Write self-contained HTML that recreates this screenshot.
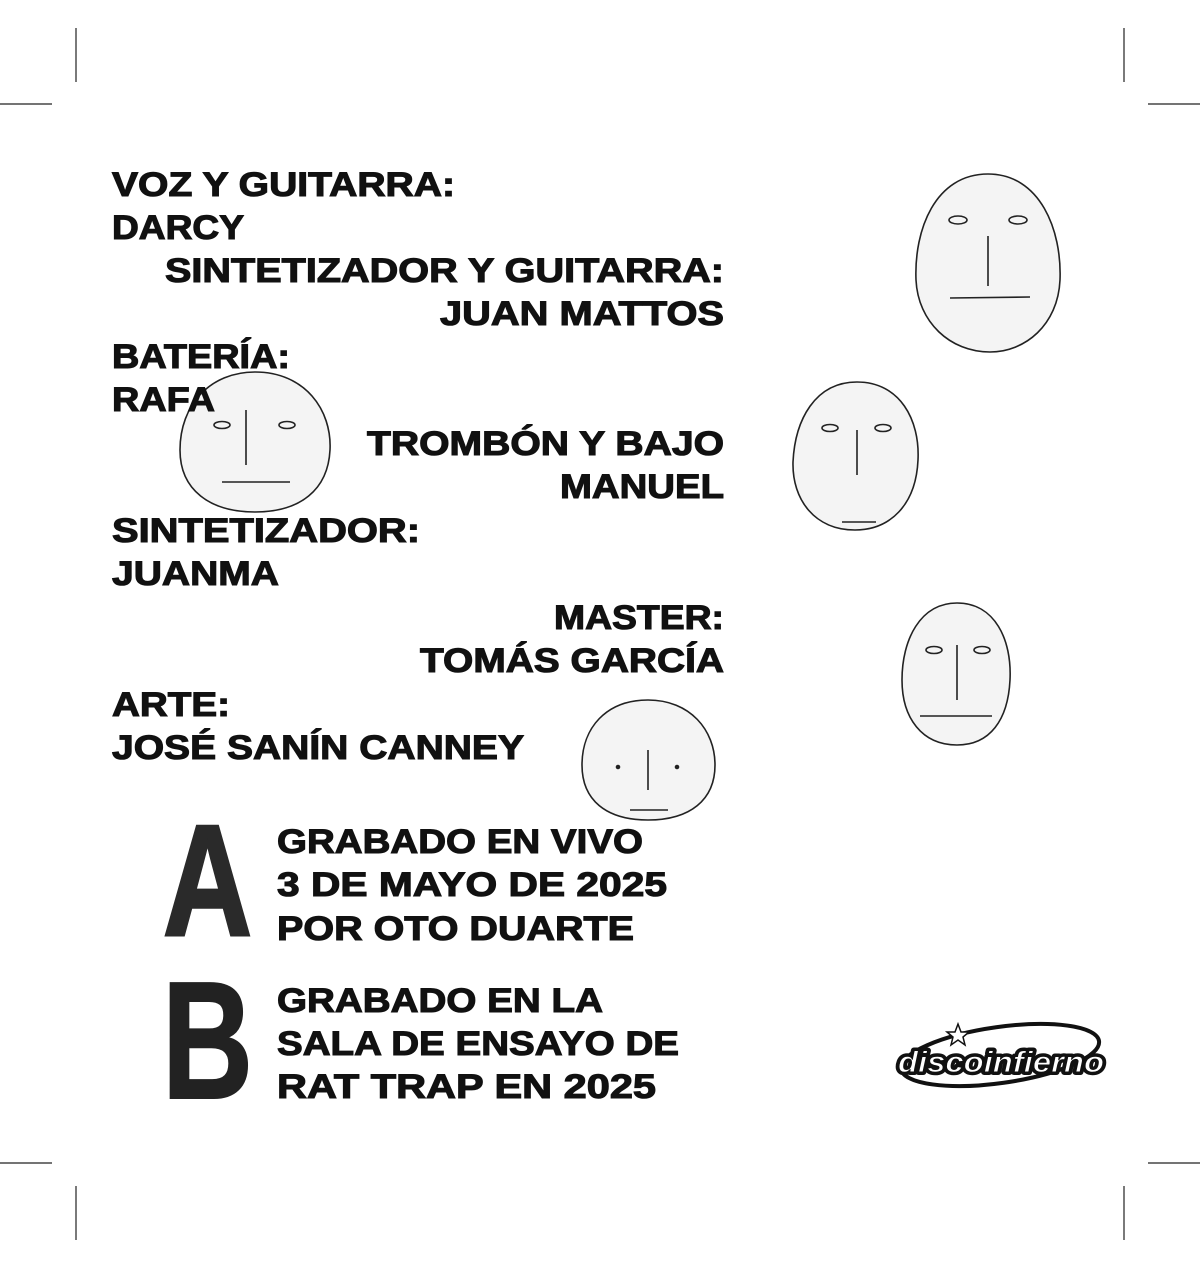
<!DOCTYPE html>
<html><head><meta charset="utf-8"><style>
html,body{margin:0;padding:0;background:#fff;}
svg{display:block}
text{font-family:"Liberation Sans",Arial,sans-serif;font-weight:bold;fill:#111;}
</style></head><body>
<svg width="1200" height="1265" viewBox="0 0 1200 1265" xmlns="http://www.w3.org/2000/svg">
<g stroke="#222" stroke-width="1.2">
<line x1="76" y1="28" x2="76" y2="82"/><line x1="0" y1="104" x2="52" y2="104"/>
<line x1="1124" y1="28" x2="1124" y2="82"/><line x1="1148" y1="104" x2="1200" y2="104"/>
<line x1="0" y1="1163" x2="52" y2="1163"/><line x1="76" y1="1186" x2="76" y2="1240"/>
<line x1="1148" y1="1163" x2="1200" y2="1163"/><line x1="1124" y1="1186" x2="1124" y2="1240"/>
</g>
<g fill="#f4f4f4" stroke="#222" stroke-width="1.6">
<path d="M988 174 C1040 174 1062 230 1060 280 C1058 325 1025 352 990 352 C950 352 918 322 916 280 C914 230 935 174 988 174Z"/>
<ellipse cx="958" cy="220" rx="9" ry="4"/><ellipse cx="1018" cy="220" rx="9" ry="4"/>
<line x1="988" y1="236" x2="988" y2="286"/><line x1="950" y1="298" x2="1030" y2="297"/>
<path d="M255 372 C305 372 332 410 330 450 C328 490 300 512 255 512 C210 512 180 490 180 450 C180 405 210 372 255 372Z"/>
<ellipse cx="222" cy="425" rx="8" ry="3.5"/><ellipse cx="287" cy="425" rx="8" ry="3.5"/>
<line x1="246" y1="410" x2="246" y2="465"/><line x1="222" y1="482" x2="290" y2="482"/>
<path d="M857 382 C900 382 920 420 918 460 C916 505 890 530 855 530 C815 530 792 500 793 462 C795 420 815 382 857 382Z"/>
<ellipse cx="830" cy="428" rx="8" ry="3.5"/><ellipse cx="883" cy="428" rx="8" ry="3.5"/>
<line x1="857" y1="430" x2="857" y2="475"/><line x1="842" y1="522" x2="876" y2="522"/>
<path d="M957 603 C995 603 1012 640 1010 680 C1008 720 990 745 957 745 C922 745 902 718 902 680 C902 640 920 603 957 603Z"/>
<ellipse cx="934" cy="650" rx="8" ry="3.5"/><ellipse cx="982" cy="650" rx="8" ry="3.5"/>
<line x1="957" y1="645" x2="957" y2="700"/><line x1="920" y1="716" x2="992" y2="716"/>
<path d="M648 700 C690 700 715 730 715 765 C715 800 690 820 648 820 C606 820 582 800 582 765 C582 728 606 700 648 700Z"/>
<circle cx="618" cy="767" r="1.5" fill="#222"/><circle cx="677" cy="767" r="1.5" fill="#222"/>
<line x1="648" y1="750" x2="648" y2="790"/><line x1="630" y1="810" x2="668" y2="810"/>
</g>
<g font-size="34" style="stroke:#111;stroke-width:1.1">
<text x="112" y="196" textLength="343" lengthAdjust="spacingAndGlyphs">VOZ Y GUITARRA:</text>
<text x="112" y="239" textLength="132" lengthAdjust="spacingAndGlyphs">DARCY</text>
<text x="165" y="282" textLength="559" lengthAdjust="spacingAndGlyphs">SINTETIZADOR Y GUITARRA:</text>
<text x="440" y="325" textLength="284" lengthAdjust="spacingAndGlyphs">JUAN MATTOS</text>
<text x="112" y="368" textLength="178" lengthAdjust="spacingAndGlyphs">BATERÍA:</text>
<text x="112" y="411" textLength="103" lengthAdjust="spacingAndGlyphs">RAFA</text>
<text x="367" y="455" textLength="357" lengthAdjust="spacingAndGlyphs">TROMBÓN Y BAJO</text>
<text x="560" y="498" textLength="164" lengthAdjust="spacingAndGlyphs">MANUEL</text>
<text x="112" y="542" textLength="308" lengthAdjust="spacingAndGlyphs">SINTETIZADOR:</text>
<text x="112" y="585" textLength="167" lengthAdjust="spacingAndGlyphs">JUANMA</text>
<text x="554" y="629" textLength="170" lengthAdjust="spacingAndGlyphs">MASTER:</text>
<text x="420" y="672" textLength="304" lengthAdjust="spacingAndGlyphs">TOMÁS GARCÍA</text>
<text x="112" y="716" textLength="118" lengthAdjust="spacingAndGlyphs">ARTE:</text>
<text x="112" y="759" textLength="412" lengthAdjust="spacingAndGlyphs">JOSÉ SANÍN CANNEY</text>
<text x="277" y="853" textLength="366" lengthAdjust="spacingAndGlyphs">GRABADO EN VIVO</text>
<text x="277" y="896" textLength="390" lengthAdjust="spacingAndGlyphs">3 DE MAYO DE 2025</text>
<text x="277" y="940" textLength="357" lengthAdjust="spacingAndGlyphs">POR OTO DUARTE</text>
<text x="277" y="1012" textLength="326" lengthAdjust="spacingAndGlyphs">GRABADO EN LA</text>
<text x="277" y="1055" textLength="402" lengthAdjust="spacingAndGlyphs">SALA DE ENSAYO DE</text>
<text x="277" y="1098" textLength="379" lengthAdjust="spacingAndGlyphs">RAT TRAP EN 2025</text>
</g>
<text x="163" y="935" font-size="158" textLength="89" lengthAdjust="spacingAndGlyphs" style="fill:#2a2a2a;stroke:#2a2a2a;stroke-width:3">A</text>
<text x="162" y="1098" font-size="167" textLength="91" lengthAdjust="spacingAndGlyphs" style="fill:#222;stroke:#222;stroke-width:2">B</text>
<g transform="rotate(-8 1000 1055)">
<ellipse cx="1000" cy="1055" rx="100" ry="28" fill="none" stroke="#111" stroke-width="4"/>
</g>
<text x="898" y="1072" font-size="30" font-style="italic" textLength="206" lengthAdjust="spacingAndGlyphs" style="fill:#111;stroke:#111;stroke-width:6;stroke-linejoin:round">discoinfierno</text>
<text x="898" y="1072" font-size="30" font-style="italic" textLength="206" lengthAdjust="spacingAndGlyphs" style="fill:#fff;stroke:#111;stroke-width:1">discoinfierno</text>
<polygon points="958,1024 961,1032 969,1032 963,1037 965,1045 958,1040 951,1045 953,1037 947,1032 955,1032" fill="#fff" stroke="#111" stroke-width="1.5"/>
</svg>
</body></html>
